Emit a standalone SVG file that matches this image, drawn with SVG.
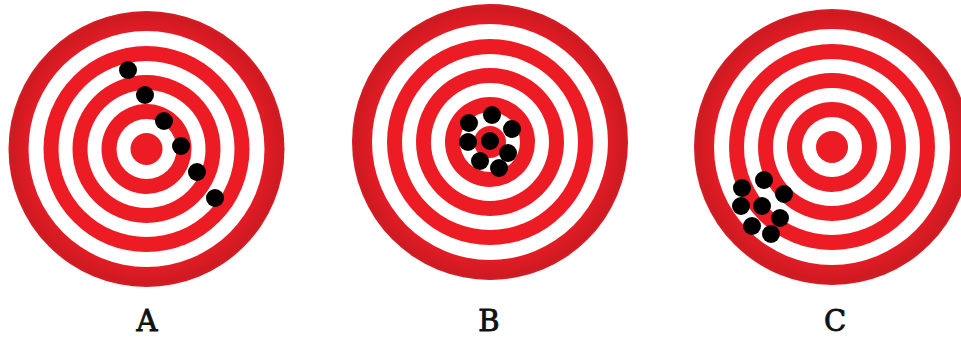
<svg xmlns="http://www.w3.org/2000/svg" xmlns:xlink="http://www.w3.org/1999/xlink" width="961" height="337" viewBox="0 0 961 337">
<defs>
<radialGradient id="edge" cx="0" cy="0" r="138" gradientUnits="userSpaceOnUse">
<stop offset="0.85" stop-color="#e31c25"/>
<stop offset="0.97" stop-color="#cf1a22"/>
<stop offset="1" stop-color="#d41c24"/>
</radialGradient>
<g id="target">
<circle r="138" fill="url(#edge)"/>
<circle r="118" fill="#ffffff"/>
<circle r="103" fill="#ed1c24"/>
<circle r="88" fill="#ffffff"/>
<circle r="74" fill="#ed1c24"/>
<circle r="59" fill="#ffffff"/>
<circle r="45" fill="#ed1c24"/>
<circle r="30" fill="#ffffff"/>
<circle r="16" fill="#ed1c24"/>
</g>
</defs>
<style>
.hit{fill:#000000}
.lbl{font-family:"DejaVu Serif","Liberation Serif",serif;font-size:29px;fill:#111111;stroke:#111111;stroke-width:0.9;text-anchor:middle}
</style>
<rect width="961" height="337" fill="#ffffff"/>
<g id="targetA">
<use xlink:href="#target" transform="translate(146.5,149)"/>
<circle class="hit" cx="128" cy="70" r="9"/>
<circle class="hit" cx="145" cy="95" r="9"/>
<circle class="hit" cx="164" cy="121" r="9"/>
<circle class="hit" cx="181" cy="146" r="9"/>
<circle class="hit" cx="197" cy="172" r="9"/>
<circle class="hit" cx="215" cy="198" r="9"/>
<text class="lbl" x="147" y="331">A</text>
</g>
<g id="targetB">
<use xlink:href="#target" transform="translate(490,142)"/>
<circle class="hit" cx="469" cy="123" r="9"/>
<circle class="hit" cx="492" cy="115" r="9"/>
<circle class="hit" cx="512" cy="129" r="9"/>
<circle class="hit" cx="468" cy="142" r="9"/>
<circle class="hit" cx="490" cy="141" r="9"/>
<circle class="hit" cx="508" cy="153" r="9"/>
<circle class="hit" cx="480" cy="161" r="9"/>
<circle class="hit" cx="499" cy="168" r="9"/>
<text class="lbl" x="489" y="331">B</text>
</g>
<g id="targetC">
<use xlink:href="#target" transform="translate(832,147)"/>
<circle class="hit" cx="742" cy="188" r="9"/>
<circle class="hit" cx="764" cy="180" r="9"/>
<circle class="hit" cx="784" cy="194" r="9"/>
<circle class="hit" cx="741" cy="206" r="9"/>
<circle class="hit" cx="762" cy="206" r="9"/>
<circle class="hit" cx="780" cy="218" r="9"/>
<circle class="hit" cx="752" cy="226" r="9"/>
<circle class="hit" cx="771" cy="234" r="9"/>
<text class="lbl" x="835" y="331">C</text>
</g>
<g id="connectors"/>
</svg>
